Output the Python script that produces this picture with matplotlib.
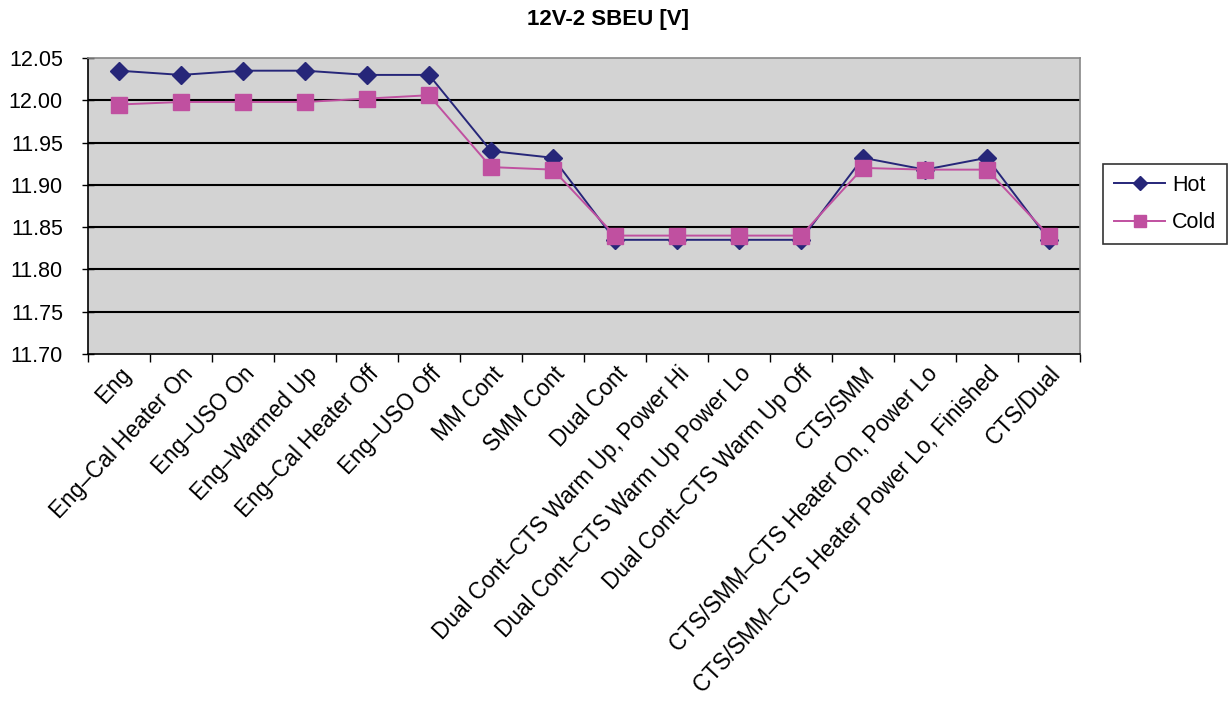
import matplotlib
matplotlib.use("Agg")
import matplotlib.pyplot as plt
from matplotlib.ticker import FixedLocator
from matplotlib.transforms import ScaledTranslation

plt.rcParams['font.family'] = ['Liberation Sans', 'DejaVu Sans']

categories = [
    "Eng", "Eng\u2013Cal Heater On", "Eng\u2013USO On", "Eng\u2013Warmed Up",
    "Eng\u2013Cal Heater Off", "Eng\u2013USO Off", "MM Cont", "SMM Cont",
    "Dual Cont", "Dual Cont\u2013CTS Warm Up, Power Hi",
    "Dual Cont\u2013CTS Warm Up Power Lo", "Dual Cont\u2013CTS Warm Up Off",
    "CTS/SMM", "CTS/SMM\u2013CTS Heater On, Power Lo",
    "CTS/SMM\u2013CTS Heater Power Lo, Finished", "CTS/Dual",
]
hot = [12.035, 12.030, 12.035, 12.035, 12.030, 12.030, 11.940, 11.932,
       11.835, 11.835, 11.835, 11.835, 11.932, 11.918, 11.932, 11.835]
cold = [11.995, 11.998, 11.998, 11.998, 12.002, 12.006, 11.921, 11.918,
        11.840, 11.840, 11.840, 11.840, 11.920, 11.918, 11.918, 11.840]
yticks = [11.70, 11.75, 11.80, 11.85, 11.90, 11.95, 12.00, 12.05]
title = "12V-2 SBEU [V]"

FS = 15.5

fig = plt.figure(figsize=(12.3, 7.04), dpi=100)
ax = fig.add_axes([88/1230, 1 - 354/704, (1080-88)/1230, (354-58)/704])
ax.set_facecolor('#D3D3D3')

x = list(range(len(categories)))
ax.plot(x, hot, color='#262679', lw=1.4, marker='D', markersize=9,
        label='Hot', zorder=3)
ax.plot(x, cold, color='#C050A0', lw=1.4, marker='s', markersize=11,
        label='Cold', zorder=4)

ax.set_xlim(-0.5, len(categories) - 0.5)
ax.set_ylim(11.70, 12.05)
ax.set_yticks(yticks)
ax.set_yticklabels([f"{v:.2f}" for v in yticks], fontsize=FS)
for v in yticks[1:-1]:
    ax.axhline(v, color='black', lw=1.5, zorder=1)

ax.set_xticks(x)
ax.set_xticklabels(categories, rotation=47, ha='right', rotation_mode='anchor',
                   fontsize=16.3)
off = ScaledTranslation(6/72, 0, fig.dpi_scale_trans)
for lbl in ax.get_xticklabels():
    lbl.set_transform(lbl.get_transform() + off)
ax.xaxis.set_minor_locator(FixedLocator([i - 0.5 for i in range(len(categories) + 1)]))
ax.tick_params(axis='x', which='major', length=0, pad=6)
ax.tick_params(axis='x', which='minor', length=6, width=1, direction='out')
ax.tick_params(axis='y', length=8, width=1, direction='inout', pad=14)

for side in ['top', 'right']:
    ax.spines[side].set_color('#888888')
    ax.spines[side].set_linewidth(1.2)
for side in ['left', 'bottom']:
    ax.spines[side].set_color('black')
    ax.spines[side].set_linewidth(1.2)

fig.text(608/1230, 1 - 20/704, title, ha='center', va='center',
         fontsize=16, fontweight='bold')

leg = ax.legend(loc='center left', bbox_to_anchor=(1103/1230, 1 - 204/704),
                bbox_transform=fig.transFigure, frameon=True, fancybox=False,
                edgecolor='black', fontsize=FS, handlelength=2.4,
                borderpad=0.5, labelspacing=0.75, markerscale=0.75,
                handletextpad=0.3, borderaxespad=0)
leg.get_frame().set_linewidth(1.2)

fig.savefig('out.png', dpi=100)
